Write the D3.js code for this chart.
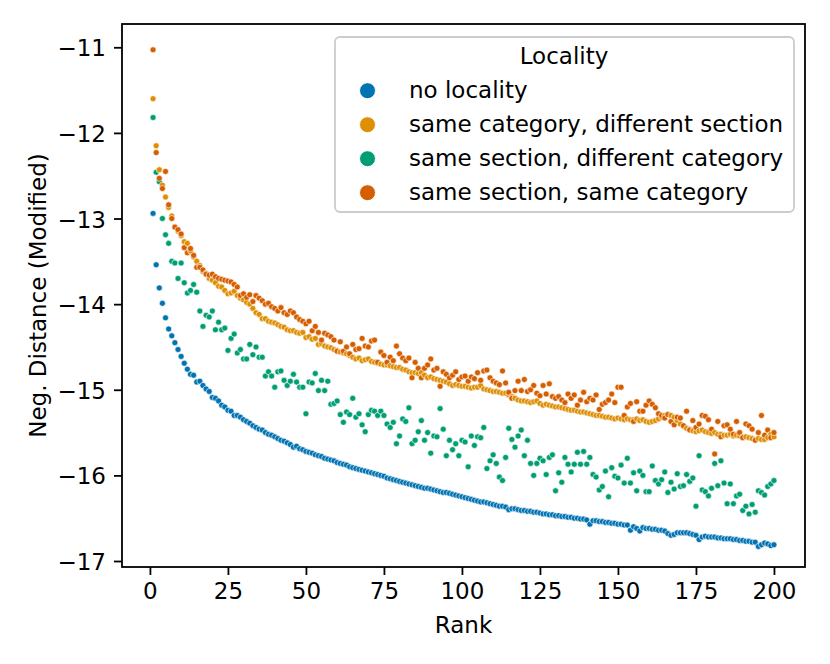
<!DOCTYPE html>
<html><head><meta charset="utf-8">
<script src="https://cdn.jsdelivr.net/npm/d3@7"></script>
<style>body{margin:0;background:#fff} text{font-family:"DejaVu Sans",sans-serif}</style>
</head><body><svg id="c" width="830" height="664"></svg>
<script>
const ranks = Array.from({length: 200}, (_, i) => i + 1);

const noLocality = [
-12.94,-13.54,-13.81,-13.99,-14.16,-14.29,-14.37,-14.45,-14.53,-14.61,
-14.69,-14.76,-14.82,-14.83,-14.91,-14.90,-14.95,-14.99,-15.02,-15.09,
-15.10,-15.13,-15.18,-15.20,-15.24,-15.25,-15.30,-15.30,-15.32,-15.35,
-15.37,-15.39,-15.42,-15.44,-15.46,-15.47,-15.50,-15.52,-15.53,-15.55,
-15.57,-15.59,-15.60,-15.62,-15.64,-15.67,-15.66,-15.69,-15.70,-15.72,
-15.73,-15.74,-15.76,-15.77,-15.78,-15.80,-15.81,-15.82,-15.83,-15.85,
-15.86,-15.87,-15.88,-15.90,-15.91,-15.92,-15.93,-15.94,-15.95,-15.96,
-15.97,-15.98,-15.99,-16.00,-16.01,-16.03,-16.04,-16.05,-16.06,-16.07,
-16.08,-16.09,-16.10,-16.11,-16.12,-16.13,-16.14,-16.15,-16.15,-16.16,
-16.17,-16.18,-16.19,-16.20,-16.20,-16.21,-16.22,-16.23,-16.24,-16.25,
-16.26,-16.27,-16.28,-16.29,-16.30,-16.31,-16.31,-16.32,-16.33,-16.34,
-16.35,-16.36,-16.36,-16.37,-16.40,-16.39,-16.39,-16.40,-16.41,-16.41,
-16.42,-16.42,-16.43,-16.43,-16.44,-16.45,-16.45,-16.46,-16.46,-16.47,
-16.47,-16.48,-16.48,-16.49,-16.49,-16.50,-16.50,-16.51,-16.51,-16.52,
-16.57,-16.53,-16.53,-16.54,-16.54,-16.55,-16.55,-16.56,-16.56,-16.57,
-16.57,-16.58,-16.58,-16.64,-16.60,-16.62,-16.65,-16.61,-16.62,-16.62,
-16.63,-16.63,-16.64,-16.64,-16.65,-16.68,-16.70,-16.69,-16.67,-16.67,
-16.67,-16.67,-16.68,-16.69,-16.70,-16.75,-16.72,-16.71,-16.72,-16.72,
-16.72,-16.73,-16.73,-16.74,-16.74,-16.74,-16.75,-16.75,-16.76,-16.76,
-16.77,-16.77,-16.78,-16.78,-16.83,-16.81,-16.79,-16.80,-16.82,-16.81
];

const sameCategoryDiffSection = [
-11.60,-12.15,-12.43,-12.61,-12.75,-12.87,-12.97,-13.10,-13.15,-13.20,
-13.27,-13.29,-13.38,-13.45,-13.50,-13.55,-13.62,-13.64,-13.70,-13.72,
-13.75,-13.79,-13.80,-13.84,-13.88,-13.87,-13.85,-13.90,-13.93,-13.95,
-13.98,-14.00,-14.05,-14.10,-14.12,-14.17,-14.17,-14.20,-14.21,-14.22,
-14.24,-14.26,-14.27,-14.30,-14.31,-14.31,-14.33,-14.34,-14.33,-14.39,
-14.38,-14.41,-14.40,-14.47,-14.46,-14.49,-14.50,-14.51,-14.53,-14.54,
-14.56,-14.57,-14.58,-14.60,-14.62,-14.64,-14.63,-14.66,-14.65,-14.64,
-14.67,-14.68,-14.69,-14.70,-14.71,-14.71,-14.72,-14.73,-14.74,-14.74,
-14.76,-14.77,-14.79,-14.80,-14.80,-14.81,-14.80,-14.83,-14.86,-14.85,
-14.87,-14.88,-14.89,-14.90,-14.91,-14.93,-14.95,-14.94,-14.95,-14.96,
-14.96,-14.97,-14.98,-14.97,-14.97,-14.95,-14.99,-15.00,-15.01,-15.02,
-15.02,-15.03,-15.04,-15.04,-15.06,-15.08,-15.10,-15.12,-15.13,-15.13,
-15.14,-15.15,-15.14,-15.13,-15.16,-15.18,-15.17,-15.18,-15.19,-15.20,
-15.20,-15.21,-15.22,-15.23,-15.24,-15.24,-15.25,-15.26,-15.26,-15.27,
-15.28,-15.29,-15.30,-15.30,-15.31,-15.32,-15.32,-15.33,-15.34,-15.33,
-15.34,-15.35,-15.34,-15.35,-15.35,-15.34,-15.36,-15.35,-15.37,-15.38,
-15.37,-15.36,-15.34,-15.32,-15.30,-15.29,-15.30,-15.32,-15.36,-15.40,
-15.43,-15.45,-15.46,-15.48,-15.49,-15.48,-15.47,-15.49,-15.50,-15.51,
-15.50,-15.52,-15.52,-15.53,-15.53,-15.52,-15.54,-15.53,-15.54,-15.55,
-15.55,-15.56,-15.57,-15.58,-15.57,-15.58,-15.58,-15.56,-15.52,-15.55
];

const sameSectionDiffCategory = [
-11.82,-12.46,-12.57,-13.00,-13.19,-13.29,-13.50,-13.52,-13.70,-13.52,
-13.75,-13.87,-13.84,-13.77,-13.86,-14.08,-14.26,-14.13,-14.15,-14.08,
-14.30,-14.21,-14.30,-14.28,-14.54,-14.40,-14.35,-14.57,-14.53,-14.64,
-14.64,-14.47,-14.59,-14.50,-14.62,-14.62,-14.84,-14.79,-14.84,-14.97,
-14.79,-14.78,-14.89,-14.95,-14.90,-14.82,-14.91,-14.97,-14.97,-15.28,
-14.91,-14.92,-14.81,-15.01,-14.89,-15.01,-14.90,-15.17,-15.16,-15.13,
-15.29,-15.38,-15.26,-15.29,-15.10,-15.32,-15.28,-15.41,-15.49,-15.29,
-15.24,-15.25,-15.30,-15.25,-15.30,-15.40,-15.44,-15.38,-15.63,-15.54,
-15.34,-15.37,-15.21,-15.63,-15.59,-15.49,-15.36,-15.59,-15.50,-15.74,
-15.54,-15.55,-15.22,-15.46,-15.77,-15.59,-15.70,-15.63,-15.77,-15.59,
-15.61,-15.90,-15.54,-15.65,-15.55,-15.56,-15.44,-15.92,-15.83,-15.76,
-15.86,-16.02,-16.06,-15.79,-15.45,-15.58,-15.67,-15.54,-15.47,-15.77,
-15.59,-15.86,-16.00,-15.86,-15.80,-15.83,-15.99,-15.79,-15.76,-16.18,
-15.97,-16.08,-15.79,-15.87,-15.96,-15.87,-15.73,-15.87,-15.72,-15.87,
-15.79,-15.99,-16.02,-16.17,-16.13,-15.95,-16.25,-15.91,-16.01,-16.03,
-15.88,-16.09,-15.80,-16.09,-15.97,-16.18,-15.95,-16.00,-16.19,-16.19,
-15.89,-16.06,-16.10,-16.05,-15.96,-16.20,-16.08,-16.16,-15.98,-16.13,
-16.12,-15.99,-16.07,-16.03,-16.36,-15.77,-16.17,-16.19,-16.24,-16.15,
-15.86,-16.12,-15.83,-16.09,-16.33,-16.10,-16.33,-16.24,-16.22,-16.41,
-16.36,-16.45,-16.34,-16.43,-16.18,-16.20,-16.23,-16.13,-16.10,-16.06
];

const sameSectionSameCategory = [
-11.03,-12.23,-12.53,-12.65,-12.45,-12.84,-13.00,-13.10,-13.13,-13.18,
-13.34,-13.40,-13.35,-13.43,-13.57,-13.57,-13.60,-13.65,-13.66,-13.65,
-13.68,-13.70,-13.71,-13.72,-13.73,-13.74,-13.77,-13.80,-13.90,-13.88,
-13.92,-13.89,-13.97,-13.90,-13.93,-13.96,-14.00,-13.99,-14.03,-14.05,
-14.08,-14.04,-14.10,-14.12,-14.08,-14.10,-14.15,-14.18,-14.20,-14.23,
-14.20,-14.31,-14.26,-14.33,-14.42,-14.34,-14.36,-14.38,-14.42,-14.55,
-14.44,-14.55,-14.50,-14.58,-14.47,-14.53,-14.52,-14.40,-14.49,-14.50,
-14.43,-14.42,-14.68,-14.56,-14.60,-14.68,-14.62,-14.66,-14.49,-14.58,
-14.63,-14.66,-14.63,-14.86,-14.68,-14.75,-14.86,-14.75,-14.71,-14.64,
-14.77,-14.75,-14.96,-14.79,-14.82,-14.86,-14.83,-14.79,-14.88,-14.85,
-14.84,-14.90,-14.85,-14.87,-14.80,-14.89,-14.78,-14.77,-14.86,-14.90,
-14.92,-14.94,-14.78,-14.92,-15.03,-15.10,-15.01,-14.90,-15.01,-14.88,
-15.02,-15.00,-14.95,-15.04,-15.07,-14.95,-15.05,-14.93,-15.08,-15.10,
-15.08,-15.12,-15.15,-15.05,-15.10,-15.06,-15.18,-15.12,-15.03,-15.14,
-15.10,-15.12,-15.06,-15.23,-15.17,-15.15,-15.12,-15.05,-15.15,-14.97,
-14.97,-15.30,-15.20,-15.16,-15.37,-15.14,-15.25,-15.25,-15.18,-15.13,
-15.17,-15.21,-15.28,-15.30,-15.33,-15.29,-15.37,-15.41,-15.32,-15.33,
-15.42,-15.25,-15.47,-15.36,-15.44,-15.40,-15.30,-15.31,-15.35,-15.46,
-15.75,-15.37,-15.55,-15.42,-15.41,-15.46,-15.52,-15.37,-15.50,-15.56,
-15.40,-15.42,-15.46,-15.59,-15.50,-15.30,-15.53,-15.47,-15.56,-15.50
];

const seriesNames = ["no locality", "same category, different section", "same section, different category", "same section, same category"];
const seriesValues = [noLocality, sameCategoryDiffSection, sameSectionDiffCategory, sameSectionSameCategory];
const colors = ["#0173b2", "#de8f05", "#029e73", "#d55e00"];
const xTicks = [0, 25, 50, 75, 100, 125, 150, 175, 200];
const yTicks = [-17, -16, -15, -14, -13, -12, -11];
const legendTitle = "Locality";
const xLabel = "Rank";
const yLabel = "Neg. Distance (Modified)";

const L = 122, R = 805, T = 24, B = 567;
const FS = 23;
const svg = d3.select("#c");
const x = d3.scaleLinear().domain([-8.95, 209.95]).range([L, R]);
const y = d3.scaleLinear().domain([-17.07, -10.728]).range([B, T]);

// points, interleaved by rank
const pts = [];
ranks.forEach((r, i) => seriesValues.forEach((s, k) => pts.push({r, v: s[i], k})));
svg.append("g").selectAll("circle").data(pts).join("circle")
  .attr("cx", d => x(d.r)).attr("cy", d => y(d.v)).attr("r", 3.0)
  .attr("fill", d => colors[d.k]).attr("stroke", "#fff").attr("stroke-width", 0.6);

// axes
const gx = svg.append("g").attr("transform", `translate(0,${B})`)
  .call(d3.axisBottom(x).tickValues(xTicks).tickSize(8).tickSizeOuter(0).tickPadding(8));
const gy = svg.append("g").attr("transform", `translate(${L},0)`)
  .call(d3.axisLeft(y).tickValues(yTicks).tickSize(8).tickSizeOuter(0).tickPadding(8).tickFormat(d => String(d).replace("-", "\u2212")));
[gx, gy].forEach(g => {
  g.select(".domain").remove();
  g.selectAll(".tick line").attr("stroke", "#000").attr("stroke-width", 1.8);
  g.selectAll(".tick text").attr("font-size", FS).attr("font-family", "DejaVu Sans").attr("fill", "#000");
});
gy.selectAll(".tick text").attr("dy", "0.37em");

svg.append("rect").attr("x", L).attr("y", T).attr("width", R - L).attr("height", B - T)
  .attr("fill", "none").attr("stroke", "#000").attr("stroke-width", 1.8);

svg.append("text").attr("x", (L + R) / 2).attr("y", 633).attr("text-anchor", "middle")
  .attr("font-size", FS).text(xLabel);
svg.append("text").attr("transform", `translate(46,${(T + B) / 2}) rotate(-90)`)
  .attr("text-anchor", "middle").attr("font-size", FS).text(yLabel);

// legend
const lg = svg.append("g");
lg.append("rect").attr("x", 335).attr("y", 37).attr("width", 459).attr("height", 175).attr("rx", 5)
  .attr("fill", "#fff").attr("fill-opacity", 0.8).attr("stroke", "#cccccc").attr("stroke-width", 1.8);
lg.append("text").attr("x", 564).attr("y", 63.5).attr("text-anchor", "middle").attr("font-size", FS).text(legendTitle);
seriesNames.forEach((n, k) => {
  const cy = 90.7 + k * 34;
  lg.append("circle").attr("cx", 367.5).attr("cy", cy).attr("r", 8).attr("fill", colors[k])
    .attr("stroke", "#fff").attr("stroke-width", 1);
  lg.append("text").attr("x", 409).attr("y", cy + 7.5).attr("font-size", FS).text(n);
});
</script></body></html>
